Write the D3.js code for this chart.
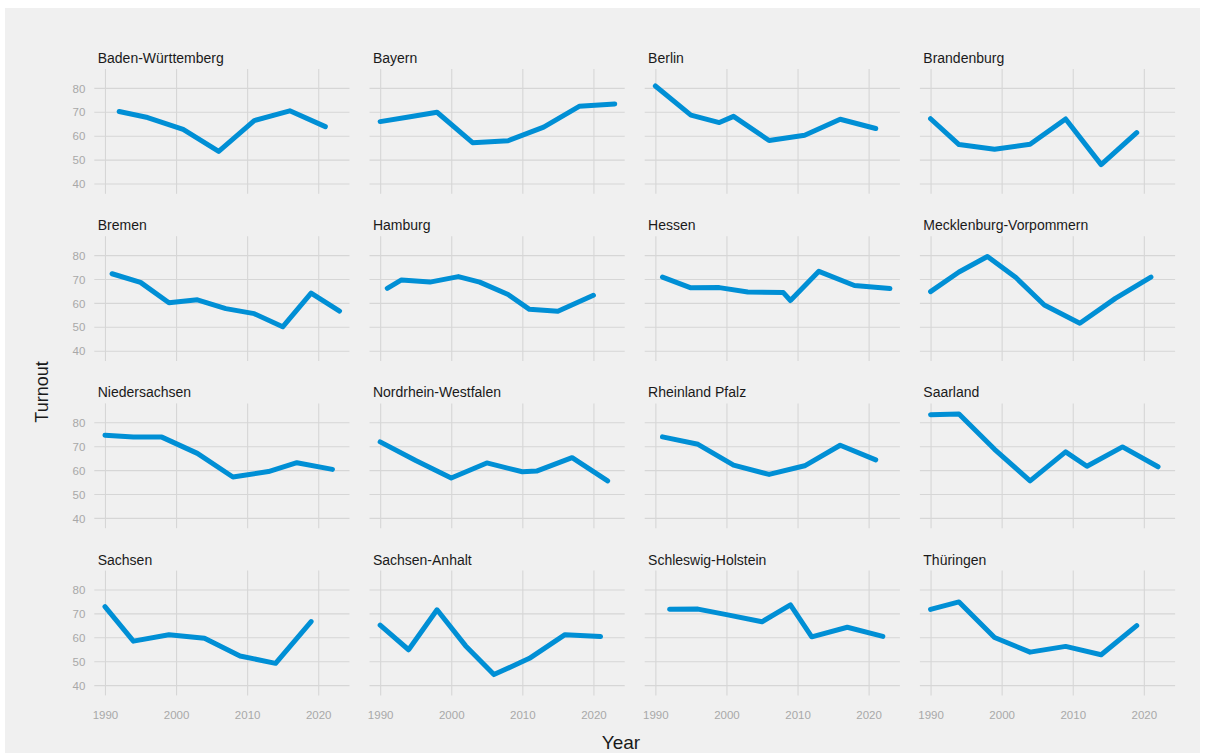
<!DOCTYPE html>
<html>
<head>
<meta charset="utf-8">
<script src="https://cdn.jsdelivr.net/npm/d3@7/dist/d3.min.js"></script>
<style>
  html, body { margin: 0; padding: 0; background: #ffffff; }
  svg { display: block; }
  text { font-family: "Liberation Sans", Arial, sans-serif; }
</style>
</head>
<body>
<script>
// Turnout (%) in German state elections, one small-multiple per state
const states = [
  "Baden-Württemberg", "Bayern", "Berlin", "Brandenburg",
  "Bremen", "Hamburg", "Hessen", "Mecklenburg-Vorpommern",
  "Niedersachsen", "Nordrhein-Westfalen", "Rheinland Pfalz", "Saarland",
  "Sachsen", "Sachsen-Anhalt", "Schleswig-Holstein", "Thüringen"
];

const electionYears = [
  [1992, 1996, 2001, 2006, 2011, 2016, 2021],
  [1990, 1994, 1998, 2003, 2008, 2013, 2018, 2023],
  [1990, 1995, 1999, 2001, 2006, 2011, 2016, 2021],
  [1990, 1994, 1999, 2004, 2009, 2014, 2019],
  [1991, 1995, 1999, 2003, 2007, 2011, 2015, 2019, 2023],
  [1991, 1993, 1997, 2001, 2004, 2008, 2011, 2015, 2020],
  [1991, 1995, 1999, 2003, 2008, 2009, 2013, 2018, 2023],
  [1990, 1994, 1998, 2002, 2006, 2011, 2016, 2021],
  [1990, 1994, 1998, 2003, 2008, 2013, 2017, 2022],
  [1990, 1995, 2000, 2005, 2010, 2012, 2017, 2022],
  [1991, 1996, 2001, 2006, 2011, 2016, 2021],
  [1990, 1994, 1999, 2004, 2009, 2012, 2017, 2022],
  [1990, 1994, 1999, 2004, 2009, 2014, 2019],
  [1990, 1994, 1998, 2002, 2006, 2011, 2016, 2021],
  [1992, 1996, 2000, 2005, 2009, 2012, 2017, 2022],
  [1990, 1994, 1999, 2004, 2009, 2014, 2019]
];

const turnout = [
  [70.1, 67.6, 62.6, 53.4, 66.3, 70.4, 63.8],
  [65.9, 67.8, 69.8, 57.1, 57.9, 63.6, 72.3, 73.3],
  [80.8, 68.6, 65.5, 68.1, 58.0, 60.2, 66.9, 63.0],
  [67.1, 56.3, 54.3, 56.4, 67.0, 47.9, 61.3],
  [72.2, 68.6, 60.1, 61.3, 57.6, 55.5, 50.0, 64.1, 56.6],
  [66.1, 69.6, 68.7, 71.0, 68.7, 63.5, 57.3, 56.5, 63.2],
  [70.8, 66.3, 66.4, 64.6, 64.3, 61.0, 73.2, 67.3, 66.0],
  [64.7, 72.9, 79.4, 70.6, 59.1, 51.5, 61.9, 70.8],
  [74.6, 73.8, 73.8, 67.0, 57.1, 59.4, 63.1, 60.3],
  [71.8, 64.0, 56.7, 63.0, 59.3, 59.6, 65.2, 55.5],
  [73.9, 70.8, 62.1, 58.2, 61.8, 70.4, 64.3],
  [83.2, 83.5, 68.7, 55.5, 67.6, 61.6, 69.7, 61.4],
  [72.8, 58.4, 61.1, 59.6, 52.2, 49.1, 66.6],
  [65.1, 54.8, 71.5, 56.5, 44.4, 51.2, 61.1, 60.3],
  [71.7, 71.8, 69.5, 66.5, 73.6, 60.2, 64.2, 60.4],
  [71.7, 74.8, 59.9, 53.8, 56.2, 52.7, 64.9]
];

const xTicks = [1990, 2000, 2010, 2020];
const yTicks = [40, 50, 60, 70, 80];

// ---- layout ----
const W = 1205, H = 753;
const nCols = 4;
const panelW = 255.2, panelH = 124.8;
const colStep = 275.2, rowStep = 167.2;
const originX = 94.3, originY = 69;

const bg = "#f0f0f0";
const gridColor = "#d6d6d6";
const lineColor = "#008fd5";
const tickColor = "#a8a8a8";

const svg = d3.select("body").append("svg")
  .attr("width", W).attr("height", H);

svg.append("rect").attr("x", 0).attr("y", 0).attr("width", W).attr("height", H).attr("fill", "#ffffff");
svg.append("rect").attr("x", 5).attr("y", 8).attr("width", 1195).attr("height", H - 8).attr("fill", bg);

const x = d3.scaleLinear().domain([1988.5, 2024.4]).range([0, panelW]);
const y = d3.scaleLinear().domain([35.7, 87.9]).range([panelH, 0]);

const line = d3.line()
  .x(d => x(d[0]))
  .y(d => y(d[1]));

const nRows = Math.ceil(states.length / nCols);

states.forEach((name, i) => {
  const c = i % nCols, r = Math.floor(i / nCols);
  const g = svg.append("g")
    .attr("transform", `translate(${originX + c * colStep},${originY + r * rowStep})`);

  // vertical gridlines (and year labels on the bottom row)
  const gx = g.append("g")
    .attr("transform", `translate(0,${panelH})`)
    .call(d3.axisBottom(x).tickValues(xTicks).tickSize(panelH).tickFormat(r === nRows - 1 ? d3.format("d") : ""));
  gx.select(".domain").remove();
  gx.selectAll(".tick line")
    .attr("y2", -panelH)
    .attr("stroke", gridColor).attr("stroke-width", 1.1);
  gx.selectAll(".tick text")
    .attr("y", 24).attr("dy", 0)
    .attr("fill", tickColor)
    .style("font-size", "11.5px");

  // horizontal gridlines (and turnout labels on the first column)
  const gy = g.append("g")
    .call(d3.axisLeft(y).tickValues(yTicks).tickSize(0).tickFormat(c === 0 ? d3.format("d") : ""));
  gy.select(".domain").remove();
  gy.selectAll(".tick line")
    .attr("x2", panelW)
    .attr("stroke", gridColor).attr("stroke-width", 1.1);
  gy.selectAll(".tick text")
    .attr("x", -9).attr("dy", "0.36em")
    .attr("fill", tickColor)
    .style("font-size", "11.5px");
  g.selectAll(".tick text").style("font-family", "'Liberation Sans', Arial, sans-serif");

  // strip title
  g.append("text")
    .attr("x", 3.4).attr("y", -6)
    .attr("fill", "#1a1a1a")
    .style("font-size", "14px")
    .text(name);

  const pts = electionYears[i].map((yr, k) => [yr, turnout[i][k]]);
  g.append("path")
    .datum(pts)
    .attr("d", line)
    .attr("fill", "none")
    .attr("stroke", lineColor)
    .attr("stroke-width", 5)
    .attr("stroke-linejoin", "round")
    .attr("stroke-linecap", "round");
});

// axis titles
svg.append("text")
  .attr("x", 621).attr("y", 749)
  .attr("text-anchor", "middle")
  .attr("fill", "#1a1a1a")
  .style("font-size", "19px")
  .text("Year");

svg.append("text")
  .attr("transform", "translate(48,392) rotate(-90)")
  .attr("text-anchor", "middle")
  .attr("fill", "#1a1a1a")
  .style("font-size", "18px")
  .text("Turnout");
</script>
</body>
</html>
